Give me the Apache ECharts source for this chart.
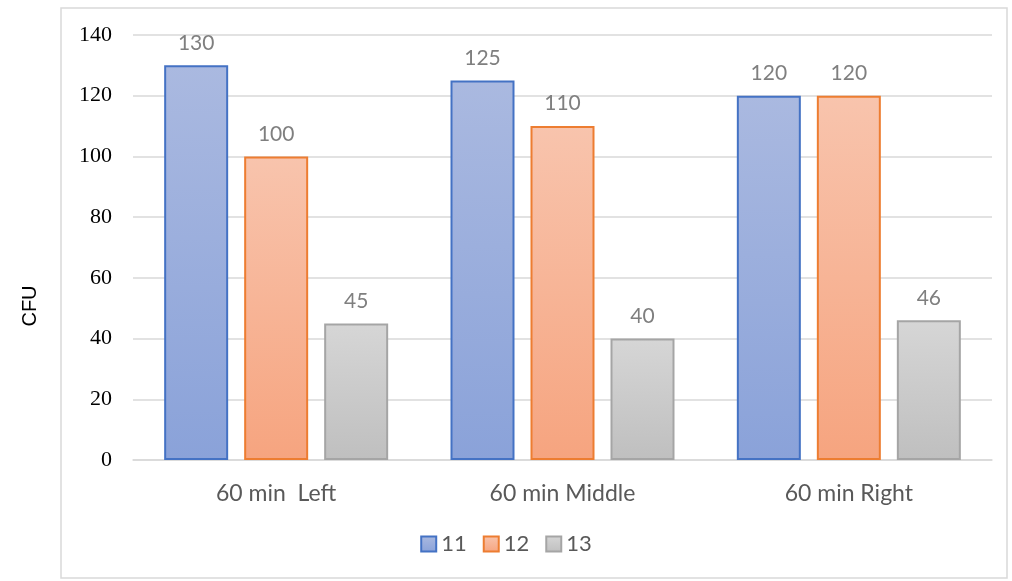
<!DOCTYPE html>
<html>
<head>
<meta charset="utf-8">
<script src="https://cdn.jsdelivr.net/npm/echarts@6/dist/echarts.min.js"></script>
<style>
  html, body { margin: 0; padding: 0; background: #fff; }
  #chart { width: 1012px; height: 581px; }
</style>
</head>
<body>
<div id="chart"></div>
<script>
const categories = ['60 min  Left', '60 min Middle', '60 min Right']
const seriesNames = ['11', '12', '13']
const values11 = [130, 125, 120]
const values12 = [100, 110, 120]
const values13 = [45, 40, 46]
const yTicks = [0, 20, 40, 60, 80, 100, 120, 140]

const grad = (top, bottom) =>
  new echarts.graphic.LinearGradient(0, 0, 0, 1, [
    { offset: 0, color: top },
    { offset: 1, color: bottom },
  ])

const styles = [
  { fill: grad('#aab9e0', '#8aa2d9'), border: '#4472c4' },
  { fill: grad('#f8c4ad', '#f6a47f'), border: '#ed7d31' },
  { fill: grad('#d6d6d6', '#bfbfbf'), border: '#a5a5a5' },
]

const chart = echarts.init(document.getElementById('chart'))

const makeSeries = (name, data, i) => ({
  name,
  type: 'bar',
  data,
  barWidth: 64,
  barGap: '25%',
  itemStyle: {
    color: styles[i].fill,
    borderColor: styles[i].border,
    borderWidth: 2,
  },
  label: {
    show: true,
    position: 'top',
    distance: 12,
    color: '#7f7f7f',
    fontSize: 21,
    fontFamily: 'Lato',
  },
})

const option = {
  animation: false,
  graphic: [
    {
      type: 'rect',
      shape: { x: 61, y: 8, width: 946, height: 570 },
      style: { fill: 'none', stroke: '#d9d9d9', lineWidth: 1.5 },
      silent: true,
    },
    {
      type: 'text',
      x: 30,
      y: 306,
      rotation: Math.PI / 2,
      style: {
        text: 'CFU',
        fill: '#000',
        fontSize: 20,
        fontFamily: 'Liberation Sans',
        align: 'center',
        verticalAlign: 'middle',
      },
      silent: true,
    },
  ],
  grid: { left: 133, right: 20, top: 35, bottom: 121 },
  legend: {
    data: seriesNames,
    bottom: 21,
    left: 'center',
    itemWidth: 15,
    itemHeight: 15,
    itemGap: 16,
    itemTextGap: 5,
    icon: 'rect',
    textStyle: { color: '#595959', fontSize: 22, fontFamily: 'Lato' },
  },
  xAxis: {
    type: 'category',
    data: categories,
    axisLine: { lineStyle: { color: '#d9d9d9', width: 1.5 } },
    axisTick: { show: false },
    axisLabel: {
      color: '#595959',
      fontSize: 23,
      fontFamily: 'Lato',
      margin: 22,
    },
  },
  yAxis: {
    type: 'value',
    min: yTicks[0],
    max: yTicks[yTicks.length - 1],
    interval: 20,
    axisLine: { show: false },
    axisTick: { show: false },
    splitLine: { lineStyle: { color: '#d9d9d9', width: 1.5 } },
    axisLabel: {
      color: '#000',
      fontSize: 22,
      fontFamily: 'Liberation Serif',
      margin: 21,
    },
  },
  series: [
    makeSeries(seriesNames[0], values11, 0),
    makeSeries(seriesNames[1], values12, 1),
    makeSeries(seriesNames[2], values13, 2),
  ],
}

chart.setOption(option)
</script>
</body>
</html>
